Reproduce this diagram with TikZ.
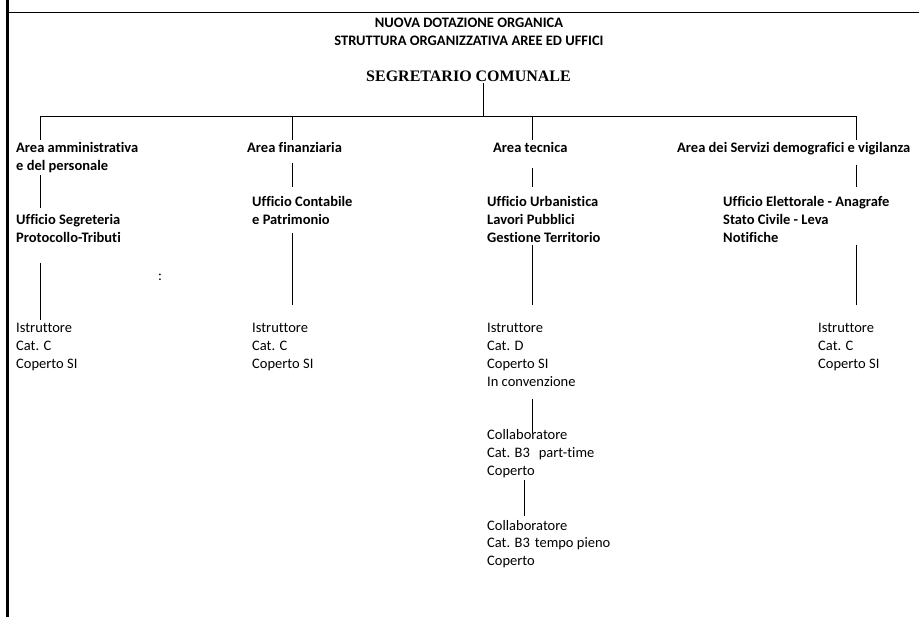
\documentclass[tikz,border=0pt]{standalone}
\usepackage{fontspec}
\setmainfont{Carlito}[Ligatures={NoCommon}]
\newfontfamily\tnr{Liberation Serif}
\newcommand\blk[1]{\begin{tabular}[t]{@{}l@{}}#1\end{tabular}}
\tikzset{
  txt/.style={anchor=base west, inner sep=0pt, font=\fontsize{14.5}{17.7}\selectfont},
  btxt/.style={anchor=base west, inner sep=0pt, font=\fontsize{14.5}{17.7}\selectfont\bfseries},
  conn/.style={line width=1pt, draw=black},
  frame/.style={line width=2.2pt, draw=black},
}
\begin{document}
\begin{tikzpicture}[x=1pt,y=-1pt]
\useasboundingbox (0,0) rectangle (919,617);
\fill[white] (0,0) rectangle (919,617);
% frame
\draw[frame] (7.5,0) -- (7.5,617);
\draw[line width=1.3pt] (7,12.5) -- (919,12.5);
% titles
\node[btxt, anchor=base] (t1) at (469,28) {NUOVA DOTAZIONE ORGANICA};
\node[btxt, anchor=base] (t2) at (469,46) {STRUTTURA ORGANIZZATIVA AREE ED UFFICI};
\node[anchor=base, inner sep=0pt, font=\tnr\bfseries\fontsize{16}{19}\selectfont] (seg) at (468.5,82) {SEGRETARIO COMUNALE};
% column 1
\node[btxt] (aam) at (16,153) {\blk{Area amministrativa\\e del personale}};
\node[btxt] (ufs) at (16,225) {\blk{Ufficio Segreteria\\Protocollo-Tributi}};
\node[txt] (is1) at (16,333) {\blk{Istruttore\\Cat. C\\Coperto SI}};
\node[txt] (colon) at (158,281) {:};
% column 2
\node[btxt] (afi) at (247,153) {Area finanziaria};
\node[btxt] (ucp) at (252,207) {\blk{Ufficio Contabile\\e Patrimonio}};
\node[txt] (is2) at (252,333) {\blk{Istruttore\\Cat. C\\Coperto SI}};
% column 3
\node[btxt] (ate) at (493,153) {Area tecnica};
\node[btxt] (uur) at (487,207) {\blk{Ufficio Urbanistica\\Lavori Pubblici\\Gestione Territorio}};
\node[txt] (is3) at (487,333) {\blk{Istruttore\\Cat. D\\Coperto SI\\In convenzione}};
\node[txt] (co1) at (487,440) {\blk{Collaboratore\\Cat. B3\hspace{9pt}part-time\\Coperto}};
\node[txt] (co2) at (487,530) {\blk{Collaboratore\\Cat. B3\hspace{5pt}tempo pieno\\Coperto}};
% column 4
\node[btxt] (ase) at (677,153) {Area dei Servizi demografici e vigilanza};
\node[btxt] (uel) at (723,207) {\blk{Ufficio Elettorale - Anagrafe\\Stato Civile - Leva\\Notifiche}};
\node[txt] (is4) at (818,333) {\blk{Istruttore\\Cat. C\\Coperto SI}};
% connector end points
\coordinate (segB) at (483,83);
\coordinate (segJ) at (483,116.5);
\coordinate (brL) at (40,116.5);
\coordinate (brA) at (292,116.5);
\coordinate (brT) at (532,116.5);
\coordinate (brR) at (856,116.5);
\coordinate (aamT) at (40,140);
\coordinate (afiT) at (292,140);
\coordinate (ateT) at (532,140);
\coordinate (aseT) at (856,140);
\coordinate (c1a) at (40,175);   \coordinate (c1b) at (40,208);
\coordinate (c1c) at (40,263);   \coordinate (c1d) at (40,320);
\coordinate (c2a) at (292,163);  \coordinate (c2b) at (292,187);
\coordinate (c2c) at (292,233);  \coordinate (c2d) at (292,305);
\coordinate (c3a) at (532,168);  \coordinate (c3b) at (532,187);
\coordinate (c3c) at (532,245);  \coordinate (c3d) at (532,305);
\coordinate (c3e) at (532,399);  \coordinate (c3f) at (532,433);
\coordinate (c3g) at (524,480);  \coordinate (c3h) at (524,516);
\coordinate (c4a) at (856,165);  \coordinate (c4b) at (856,187);
\coordinate (c4c) at (856,245);  \coordinate (c4d) at (856,305);
% connectors
\draw[conn] (segB) -- (segJ);
\draw[conn] (brL) -- (brR);
\draw[conn] (brL) -- (aamT);
\draw[conn] (brA) -- (afiT);
\draw[conn] (brT) -- (ateT);
\draw[conn] (brR) -- (aseT);
\draw[conn] (c1a) -- (c1b);
\draw[conn] (c1c) -- (c1d);
\draw[conn] (c2a) -- (c2b);
\draw[conn] (c2c) -- (c2d);
\draw[conn] (c3a) -- (c3b);
\draw[conn] (c3c) -- (c3d);
\draw[conn] (c3e) -- (c3f);
\draw[conn] (c3g) -- (c3h);
\draw[conn] (c4a) -- (c4b);
\draw[conn] (c4c) -- (c4d);
\end{tikzpicture}
\end{document}
